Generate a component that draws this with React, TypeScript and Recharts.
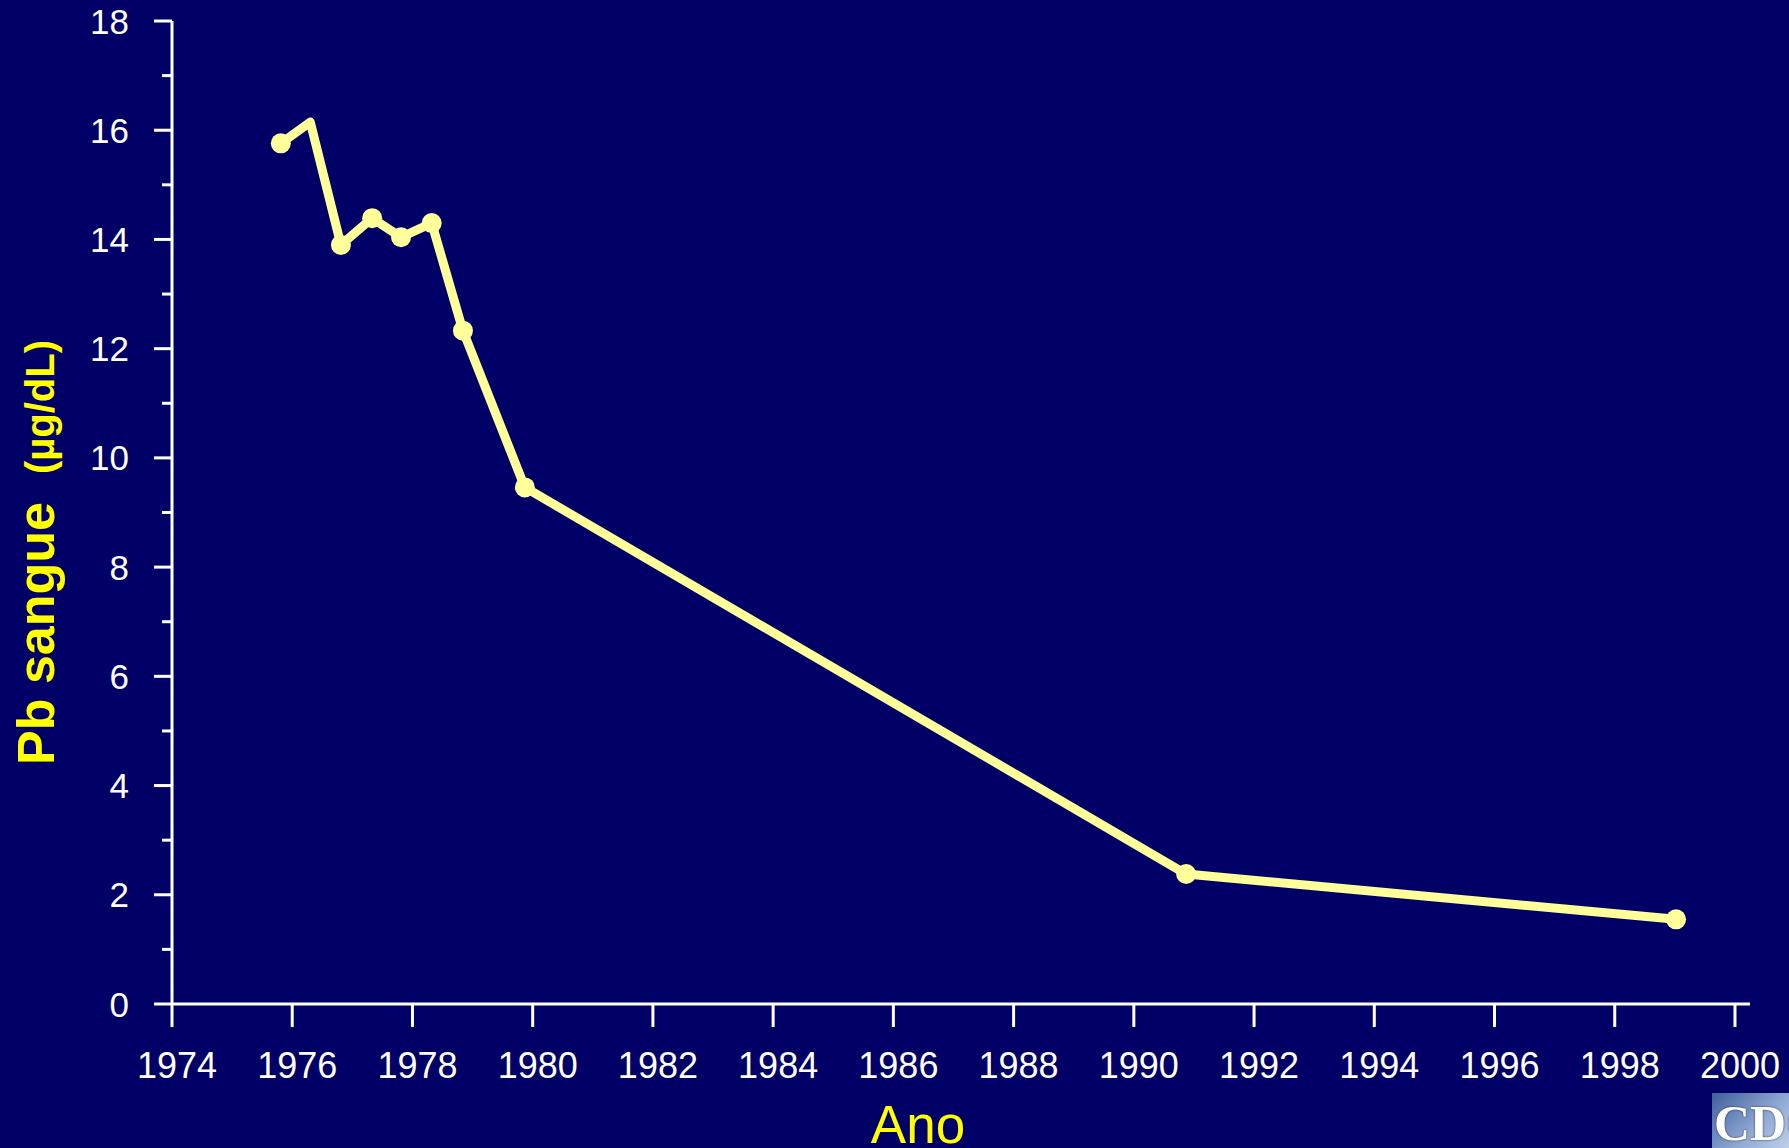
import { Label, Line, LineChart, XAxis, YAxis } from 'recharts'

// blood lead, survey points (year, µg/dL); the 1976 peak has no marker
const years = [1975.81, 1976.3, 1976.81, 1977.33, 1977.81, 1978.32, 1978.84, 1979.87, 1990.87, 1999.02]
const pbValues = [15.76, 16.15, 13.9, 14.39, 14.04, 14.3, 12.33, 9.46, 2.38, 1.55]
const marked = [true, false, true, true, true, true, true, true, true, true]

const yearTicks = [1974, 1976, 1978, 1980, 1982, 1984, 1986, 1988, 1990, 1992, 1994, 1996, 1998, 2000]
const pbTicks = [0, 1, 2, 3, 4, 5, 6, 7, 8, 9, 10, 11, 12, 13, 14, 15, 16, 17, 18]

const BG = '#000066'
const LINE = '#ffff99'
const TITLE = '#ffff00'
const FONT = '"Liberation Sans", Arial, sans-serif'

const data = years.map((year, i) => ({ year, pb: pbValues[i], marked: marked[i] }))

function PbTick({ x, y, payload }: any) {
  const major = payload.value % 2 === 0
  return (
    <g>
      <line x1={x - (major ? 18 : 10)} x2={x} y1={y} y2={y} stroke="#fff" strokeWidth={3} />
      {major && (
        <text x={x - 43} y={y} dy="0.36em" textAnchor="end" fill="#fff" fontSize={35} fontFamily={FONT}>
          {payload.value}
        </text>
      )}
    </g>
  )
}

function YearTick({ x, y, payload }: any) {
  return (
    <text x={x + 5} y={y} dy="0.71em" textAnchor="middle" fill="#fff" fontSize={36} fontFamily={FONT}>
      {payload.value}
    </text>
  )
}

function PbDot({ cx, cy, index, payload }: any) {
  if (!payload.marked) return <g key={`d-${index}`} />
  return <circle key={`d-${index}`} cx={cx} cy={cy} r={10} fill={LINE} />
}

function YTitle({ viewBox }: any) {
  const x = viewBox.x + 2
  const y = viewBox.y + 744
  return (
    <text
      x={x}
      y={y}
      transform={`rotate(-90 ${x} ${y})`}
      fill={TITLE}
      fontFamily={FONT}
      fontWeight="bold"
    >
      <tspan fontSize={52}>Pb sangue</tspan>
      <tspan fontSize={40} dx={28}>(µg/dL)</tspan>
    </text>
  )
}

function XTitle({ viewBox }: any) {
  return (
    <text x={viewBox.x + 746} y={viewBox.y + 139} textAnchor="middle" fill={TITLE} fontSize={53} fontFamily={FONT}>
      Ano
    </text>
  )
}

export default function App() {
  return (
    <div style={{ position: 'absolute', left: 0, top: 0, width: 1789, height: 1148, background: BG, overflow: 'hidden' }}>
      <LineChart width={1789} height={1148} data={data} margin={{ top: 21, right: 39, bottom: 64, left: 52 }}>
        <XAxis
          dataKey="year"
          type="number"
          domain={[1974, 2000.25]}
          ticks={yearTicks}
          interval={0}
          stroke="#fff"
          strokeWidth={3}
          tickSize={23}
          tickMargin={25}
          tick={YearTick}
          height={80}
        >
          <Label content={XTitle} />
        </XAxis>
        <YAxis
          type="number"
          domain={[0, 18]}
          ticks={pbTicks}
          interval={0}
          stroke="#fff"
          strokeWidth={3}
          tickLine={false}
          tickSize={0}
          tickMargin={0}
          tick={PbTick}
          width={120}
        >
          <Label content={YTitle} />
        </YAxis>
        <Line
          dataKey="pb"
          stroke={LINE}
          strokeWidth={9}
          strokeLinejoin="round"
          dot={PbDot}
          activeDot={false}
          isAnimationActive={false}
        />
      </LineChart>
      <div
        style={{
          position: 'absolute',
          left: 1712,
          top: 1093,
          width: 80,
          height: 60,
          overflow: 'hidden',
          background: 'linear-gradient(135deg, #3f5f9a 0%, #8fa9d4 55%, #c9d6ec 100%)',
          color: '#fff',
          fontFamily: '"Liberation Serif", serif',
          fontWeight: 'bold',
          fontSize: 50,
          lineHeight: '60px',
          paddingLeft: 2,
          textShadow: '0 0 2px #223',
        }}
      >
        CDC
      </div>
    </div>
  )
}
